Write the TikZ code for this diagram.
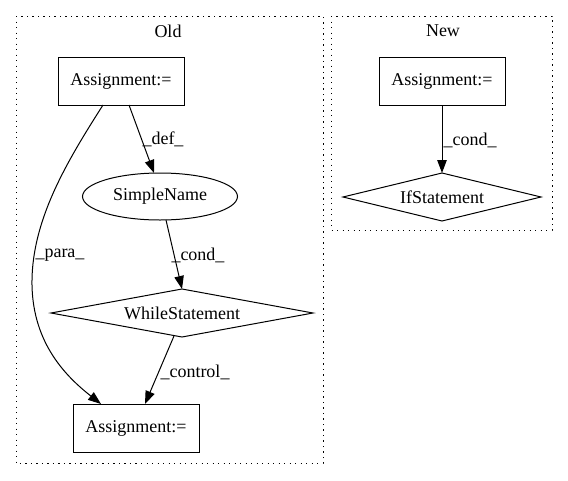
\documentclass[tikz,border=0pt]{standalone}
\usepackage{fontspec}
\setmainfont{Liberation Serif}
\usetikzlibrary{shapes.geometric,arrows.meta,calc}
\begin{document}
\begin{tikzpicture}[x=1pt,y=-1pt,
  every node/.style={font=\fontsize{18}{20}\selectfont, inner sep=0pt},
  cluster/.style={draw, line width=1pt, dash pattern=on 1.2pt off 4.3pt},
  box/.style={draw, line width=1pt, rectangle, minimum width=126pt, minimum height=48pt},
  ell/.style={draw, line width=1pt, ellipse, minimum width=155pt, minimum height=47pt},
  edge/.style={draw, line width=1pt, -{Triangle[length=13pt,width=9.5pt]}},
  lab/.style={font=\fontsize{18}{20}\selectfont}
]
\useasboundingbox (0,0) rectangle (568,480);
% clusters
\draw[cluster] (16,16) rectangle (323,463);
\node (oldlab) at (168,31) {Old};
\draw[cluster] (331,16) rectangle (552,230);
\node (newlab) at (443,31) {New};
% Old nodes
\node[box] (a1) at (121,81) {Assignment:=};
\node[ell] (sn) at (160,196.5) {SimpleName};
\coordinate (wsT) at (182,289);
\coordinate (wsB) at (182,337);
\draw[line width=1pt] (51,313) -- (wsT) -- (313,313) -- (wsB) -- cycle;
\node (ws) at (182,313) {WhileStatement};
\node[box] (a2) at (136,428.5) {Assignment:=};
% New nodes
\node[box] (a3) at (442,81) {Assignment:=};
\coordinate (ifT) at (442,173);
\coordinate (ifB) at (442,221);
\draw[line width=1pt] (343,197) -- (ifT) -- (541,197) -- (ifB) -- cycle;
\node (ifs) at (442,197) {IfStatement};
% edges
\coordinate (defS) at (129,105);
\coordinate (defE) at (154,173);
\draw[edge] (defS) -- (defE);
\node[lab] at (163,139) {\_def\_};
\coordinate (condS) at (166,220);
\draw[edge] (condS) -- (wsT);
\node[lab] at (198,255) {\_cond\_};
\coordinate (ctlS) at (174,336);
\coordinate (ctlE) at (145,404);
\draw[edge] (ctlS) -- (ctlE);
\node[lab] at (195,372) {\_control\_};
\coordinate (paraS) at (103,105);
\coordinate (paraE) at (101,404);
\draw[edge] (paraS) .. controls (68,160) and (31,220) .. (32,285) .. controls (33,345) and (68,378) .. (paraE);
\node[lab] at (60,255) {\_para\_};
\draw[edge] (a3.south) -- (ifT);
\node[lab] at (470,140) {\_cond\_};
\end{tikzpicture}
\end{document}
